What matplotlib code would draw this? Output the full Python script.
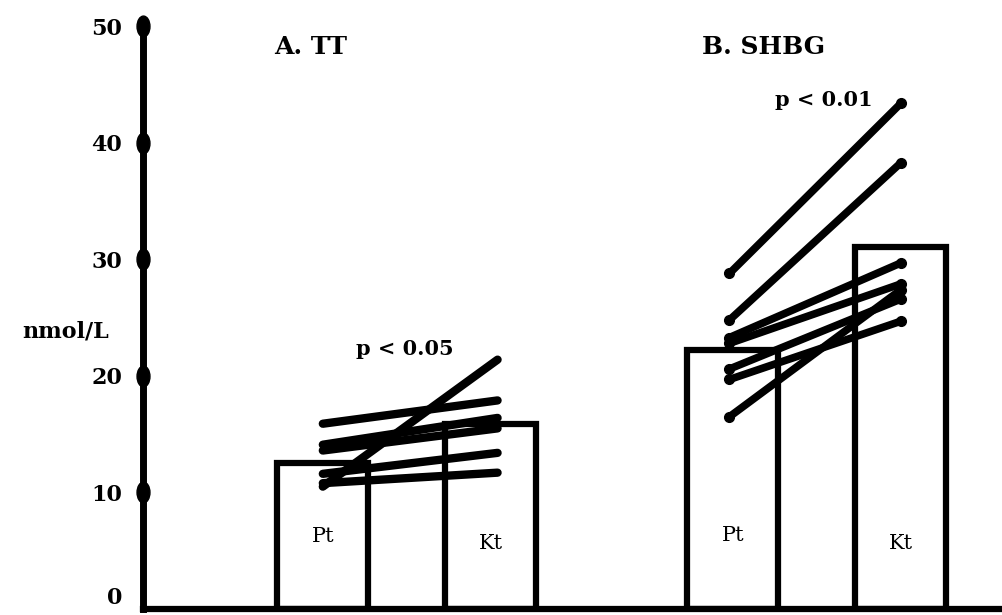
import matplotlib
matplotlib.use("Agg")
import matplotlib.pyplot as plt
from matplotlib.markers import MarkerStyle
from matplotlib.transforms import Affine2D

# bar means (nmol/L)
groups = ["Pt", "Kt", "Pt", "Kt"]
bar_values = [12.5, 15.9, 22.2, 31.1]

# individual pairs, Pt -> Kt
tt_pt = [15.9, 14.1, 13.6, 11.6, 10.8, 10.5]
tt_kt = [17.9, 16.4, 15.5, 13.4, 11.7, 21.4]
shbg_pt = [28.8, 24.8, 23.3, 22.8, 20.6, 19.7, 16.5]
shbg_kt = [43.4, 38.3, 29.7, 27.9, 26.6, 24.7, 27.4]

yticks = [0, 10, 20, 30, 40, 50]

bar_x = [1.07, 2.07, 3.51, 4.51]
tt_x = [1.07, 2.11]
shbg_x = [3.49, 4.51]

fnt = "DejaVu Serif"

fig = plt.figure(figsize=(10.03, 6.15), dpi=100)
ax = fig.add_axes([0.1426, 0.0098, 0.8544, 0.9756])

ax.bar(bar_x, bar_values, width=0.54, color="white", edgecolor="black",
       linewidth=4.5, zorder=2)

for a, b in zip(tt_pt, tt_kt):
    ax.plot(tt_x, [a, b], color="black", lw=6, solid_capstyle="round", zorder=3)
for a, b in zip(shbg_pt, shbg_kt):
    ax.plot(shbg_x, [a, b], color="black", lw=5.5, solid_capstyle="round",
            marker="o", ms=7, zorder=3)

# labels inside bars
for x, g, y in zip(bar_x, groups, [6.2, 5.6, 6.3, 5.6]):
    ax.text(x, y, g, ha="center", va="center", fontsize=15, family=fnt)

ax.text(1.0, 48.2, "A. TT", ha="center", va="center", fontsize=18,
        family=fnt, fontweight="bold")
ax.text(3.69, 48.2, "B. SHBG", ha="center", va="center", fontsize=18,
        family=fnt, fontweight="bold")
ax.text(1.56, 22.3, "p < 0.05", ha="center", va="center", fontsize=15,
        family=fnt, fontweight="bold")
ax.text(4.05, 43.7, "p < 0.01", ha="center", va="center", fontsize=15,
        family=fnt, fontweight="bold")

# dots on the y axis
dot = MarkerStyle("o", transform=Affine2D().scale(0.62, 1.0))
ax.plot([0] * 5, yticks[1:], ls="none", marker=dot, ms=15, color="black",
        clip_on=False, zorder=5)

ax.set_xlim(0, 5.1)
ax.set_ylim(0, 51.5)
ax.set_xticks([])
ax.set_yticks(yticks)
ax.set_yticklabels([str(t) for t in yticks], fontsize=16, family=fnt,
                   fontweight="bold")
ax.get_yticklabels()[0].set_va("bottom")
ax.tick_params(axis="y", length=0, pad=15)
ax.set_ylabel("nmol/L", rotation=0, fontsize=16, family=fnt,
              fontweight="bold", va="center", ha="center")
ax.yaxis.set_label_coords(-0.09, 0.462)

for s in ["top", "right"]:
    ax.spines[s].set_visible(False)
ax.spines["left"].set_linewidth(5)
ax.spines["bottom"].set_linewidth(4.5)
ax.spines["left"].set_bounds(0, 50.5)

fig.savefig("out.png", dpi=100)
